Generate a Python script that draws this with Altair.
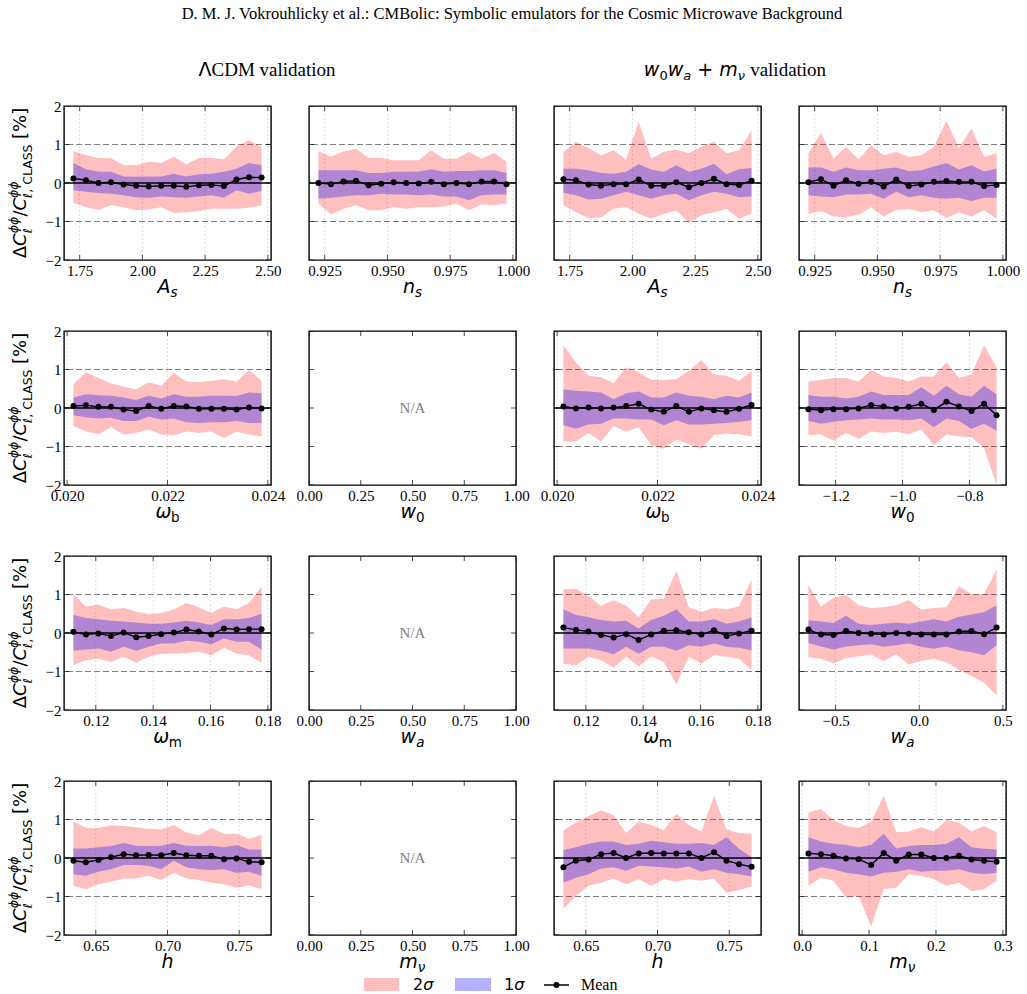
import altair as alt
import pandas as pd

SANS = "DejaVu Sans"
SERIF = "Liberation Serif"
W, H = 207, 154          # plot area of one panel
GAP_X, GAP_Y = 38, 71    # space between panels
TOP = 106                # page offset of the first panel row

# ---------------- bin centres ----------------
As_x = [1.725, 1.775, 1.825, 1.875, 1.925, 1.975, 2.025, 2.075, 2.125, 2.175, 2.225, 2.275, 2.325, 2.375, 2.425, 2.475]
ns_x = [0.9225, 0.9275, 0.9325, 0.9375, 0.9425, 0.9475, 0.9525, 0.9575, 0.9625, 0.9675, 0.9725, 0.9775, 0.9825, 0.9875, 0.9925, 0.9975]
ob_x = [0.020125, 0.020375, 0.020625, 0.020875, 0.021125, 0.021375, 0.021625, 0.021875, 0.022125, 0.022375, 0.022625, 0.022875, 0.023125, 0.023375, 0.023625, 0.023875]
om_x = [0.1122, 0.1166, 0.1209, 0.1253, 0.1297, 0.1341, 0.1384, 0.1428, 0.1472, 0.1516, 0.1559, 0.1603, 0.1647, 0.1691, 0.1734, 0.1778]
h_x = [0.6344, 0.6431, 0.6519, 0.6606, 0.6694, 0.6781, 0.6869, 0.6956, 0.7044, 0.7131, 0.7219, 0.7306, 0.7394, 0.7481, 0.7569, 0.7656]
w0_x = [-1.2813, -1.2438, -1.2063, -1.1688, -1.1313, -1.0938, -1.0563, -1.0188, -0.9813, -0.9438, -0.9063, -0.8688, -0.8313, -0.7938, -0.7563, -0.7188]
wa_x = [-0.6625, -0.5875, -0.5125, -0.4375, -0.3625, -0.2875, -0.2125, -0.1375, -0.0625, 0.0125, 0.0875, 0.1625, 0.2375, 0.3125, 0.3875, 0.4625]
mnu_x = [0.0094, 0.0281, 0.0469, 0.0656, 0.0844, 0.1031, 0.1219, 0.1406, 0.1594, 0.1781, 0.1969, 0.2156, 0.2344, 0.2531, 0.2719, 0.2906]

# ---------------- LCDM validation ----------------
lcdm_As_mean = [0.12, 0.07, 0.00, 0.02, -0.04, -0.07, -0.09, -0.07, -0.07, -0.10, -0.06, -0.05, -0.08, 0.09, 0.15, 0.14]
lcdm_As_lo1 = [-0.19, -0.23, -0.26, -0.28, -0.32, -0.37, -0.38, -0.35, -0.37, -0.38, -0.35, -0.32, -0.38, -0.19, -0.28, -0.21]
lcdm_As_hi1 = [0.52, 0.36, 0.29, 0.29, 0.17, 0.16, 0.17, 0.17, 0.24, 0.17, 0.23, 0.24, 0.29, 0.37, 0.52, 0.46]
lcdm_As_lo2 = [-0.52, -0.63, -0.70, -0.57, -0.63, -0.71, -0.69, -0.63, -0.78, -0.76, -0.73, -0.67, -0.67, -0.67, -0.64, -0.58]
lcdm_As_hi2 = [0.83, 0.72, 0.65, 0.64, 0.46, 0.46, 0.55, 0.52, 0.68, 0.49, 0.65, 0.65, 0.62, 0.94, 1.11, 0.94]

lcdm_ns_mean = [0.00, -0.03, 0.04, 0.06, -0.06, -0.02, 0.02, 0.00, -0.01, 0.03, -0.03, 0.00, -0.03, 0.04, 0.04, -0.03]
lcdm_ns_lo1 = [-0.41, -0.38, -0.35, -0.32, -0.32, -0.28, -0.30, -0.30, -0.32, -0.30, -0.35, -0.35, -0.45, -0.32, -0.30, -0.30]
lcdm_ns_hi1 = [0.33, 0.33, 0.33, 0.33, 0.26, 0.26, 0.29, 0.29, 0.30, 0.36, 0.29, 0.31, 0.31, 0.33, 0.33, 0.26]
lcdm_ns_lo2 = [-0.52, -0.82, -0.67, -0.58, -0.71, -0.71, -0.63, -0.67, -0.63, -0.63, -0.61, -0.54, -0.71, -0.56, -0.58, -0.54]
lcdm_ns_hi2 = [0.83, 0.68, 0.82, 0.89, 0.65, 0.65, 0.59, 0.59, 0.59, 0.85, 0.63, 0.63, 0.81, 0.63, 0.78, 0.55]

lcdm_ob_mean = [0.05, 0.07, 0.03, 0.03, -0.04, -0.08, 0.05, -0.02, 0.05, 0.04, -0.02, -0.02, -0.02, -0.04, 0.01, -0.01]
lcdm_ob_lo1 = [-0.19, -0.24, -0.27, -0.25, -0.34, -0.34, -0.23, -0.30, -0.27, -0.37, -0.39, -0.37, -0.37, -0.34, -0.39, -0.39]
lcdm_ob_hi1 = [0.27, 0.36, 0.33, 0.32, 0.27, 0.21, 0.32, 0.25, 0.36, 0.29, 0.29, 0.32, 0.32, 0.31, 0.40, 0.38]
lcdm_ob_lo2 = [-0.47, -0.61, -0.68, -0.50, -0.69, -0.65, -0.56, -0.69, -0.71, -0.61, -0.65, -0.61, -0.78, -0.61, -0.69, -0.74]
lcdm_ob_hi2 = [0.62, 0.93, 0.78, 0.64, 0.55, 0.49, 0.67, 0.58, 0.91, 0.69, 0.67, 0.71, 0.75, 0.68, 0.99, 0.71]

lcdm_om_mean = [0.03, -0.04, -0.01, -0.08, 0.01, -0.11, -0.08, -0.03, 0.01, 0.09, 0.04, -0.04, 0.12, 0.09, 0.10, 0.10]
lcdm_om_lo1 = [-0.46, -0.43, -0.40, -0.49, -0.36, -0.46, -0.36, -0.27, -0.27, -0.20, -0.23, -0.29, -0.14, -0.23, -0.23, -0.43]
lcdm_om_hi1 = [0.47, 0.39, 0.36, 0.32, 0.30, 0.27, 0.24, 0.24, 0.27, 0.32, 0.27, 0.21, 0.36, 0.36, 0.39, 0.50]
lcdm_om_lo2 = [-0.84, -0.71, -0.67, -0.75, -0.62, -0.77, -0.62, -0.54, -0.54, -0.52, -0.49, -0.58, -0.38, -0.54, -0.58, -0.77]
lcdm_om_hi2 = [1.00, 0.68, 0.74, 0.61, 0.65, 0.56, 0.49, 0.52, 0.61, 0.78, 0.67, 0.52, 0.69, 0.62, 0.78, 1.20]

lcdm_h_mean = [-0.07, -0.11, -0.05, 0.02, 0.10, 0.07, 0.08, 0.07, 0.13, 0.07, 0.06, 0.06, -0.03, -0.01, -0.10, -0.11]
lcdm_h_lo1 = [-0.42, -0.46, -0.36, -0.29, -0.18, -0.18, -0.20, -0.29, -0.07, -0.24, -0.29, -0.31, -0.29, -0.38, -0.36, -0.46]
lcdm_h_hi1 = [0.25, 0.25, 0.28, 0.31, 0.39, 0.32, 0.31, 0.32, 0.39, 0.32, 0.31, 0.32, 0.28, 0.34, 0.22, 0.22]
lcdm_h_lo2 = [-0.72, -0.81, -0.68, -0.62, -0.53, -0.53, -0.46, -0.57, -0.39, -0.53, -0.57, -0.64, -0.68, -0.77, -0.71, -0.81]
lcdm_h_hi2 = [0.95, 0.78, 0.78, 0.85, 0.83, 0.80, 0.76, 0.74, 0.86, 0.66, 0.59, 0.78, 0.63, 0.63, 0.50, 0.60]

# ---------------- w0wa + mnu validation ----------------
ext_As_mean = [0.10, 0.07, -0.04, -0.07, -0.03, -0.03, 0.09, -0.07, -0.07, 0.02, -0.11, 0.00, 0.11, -0.03, -0.05, 0.06]
ext_As_lo1 = [-0.25, -0.32, -0.43, -0.41, -0.32, -0.23, -0.32, -0.41, -0.32, -0.28, -0.45, -0.32, -0.23, -0.28, -0.37, -0.35]
ext_As_hi1 = [0.37, 0.37, 0.33, 0.26, 0.24, 0.29, 0.49, 0.35, 0.29, 0.46, 0.29, 0.37, 0.50, 0.23, 0.36, 0.39]
ext_As_lo2 = [-0.58, -0.76, -0.91, -0.89, -0.67, -0.63, -0.80, -0.93, -0.80, -0.71, -1.04, -0.84, -0.76, -0.67, -0.93, -0.80]
ext_As_hi2 = [0.81, 1.07, 0.90, 0.72, 0.85, 0.61, 1.59, 0.63, 0.81, 0.87, 0.77, 0.94, 1.07, 0.77, 0.85, 1.37]

ext_ns_mean = [0.02, 0.10, -0.07, 0.07, -0.02, 0.03, -0.09, 0.09, -0.08, -0.04, 0.03, 0.05, 0.03, 0.03, -0.08, -0.05]
ext_ns_lo1 = [-0.32, -0.35, -0.37, -0.30, -0.30, -0.28, -0.41, -0.23, -0.37, -0.32, -0.38, -0.41, -0.38, -0.47, -0.38, -0.38]
ext_ns_hi1 = [0.40, 0.40, 0.29, 0.40, 0.33, 0.33, 0.37, 0.40, 0.31, 0.33, 0.43, 0.52, 0.35, 0.46, 0.30, 0.37]
ext_ns_lo2 = [-0.80, -0.73, -0.87, -0.89, -0.82, -0.63, -0.87, -0.70, -0.67, -0.76, -0.71, -0.91, -0.76, -0.87, -0.71, -0.93]
ext_ns_hi2 = [0.77, 1.30, 0.63, 0.94, 0.61, 0.98, 0.72, 0.81, 0.68, 0.72, 0.94, 1.62, 0.90, 1.42, 0.68, 0.77]

ext_ob_mean = [0.04, -0.01, 0.01, -0.01, 0.01, 0.05, 0.11, -0.04, -0.10, 0.05, -0.10, -0.01, -0.06, -0.10, -0.02, 0.08]
ext_ob_lo1 = [-0.45, -0.54, -0.43, -0.41, -0.27, -0.27, -0.30, -0.30, -0.45, -0.32, -0.43, -0.43, -0.41, -0.39, -0.36, -0.32]
ext_ob_hi1 = [0.49, 0.45, 0.43, 0.40, 0.23, 0.38, 0.43, 0.27, 0.27, 0.40, 0.32, 0.29, 0.23, 0.32, 0.27, 0.40]
ext_ob_lo2 = [-0.87, -0.87, -0.65, -0.87, -0.47, -0.62, -0.50, -0.97, -1.06, -0.82, -0.94, -1.06, -0.70, -0.66, -0.68, -0.74]
ext_ob_hi2 = [1.63, 1.19, 0.84, 0.80, 0.64, 1.06, 0.93, 0.73, 0.73, 0.75, 0.97, 1.25, 0.87, 0.84, 0.71, 0.96]

ext_w0_mean = [-0.03, -0.06, -0.03, -0.03, -0.01, 0.08, 0.04, -0.01, 0.03, 0.11, -0.05, 0.16, 0.04, -0.08, 0.11, -0.19]
ext_w0_lo1 = [-0.34, -0.41, -0.36, -0.32, -0.30, -0.27, -0.30, -0.30, -0.32, -0.27, -0.50, -0.27, -0.34, -0.54, -0.41, -0.59]
ext_w0_hi1 = [0.34, 0.29, 0.29, 0.25, 0.29, 0.43, 0.34, 0.34, 0.34, 0.54, 0.32, 0.58, 0.36, 0.29, 0.58, 0.36]
ext_w0_lo2 = [-0.71, -0.68, -0.85, -0.65, -0.80, -0.61, -0.65, -0.62, -0.68, -0.56, -0.97, -0.69, -0.74, -0.76, -1.04, -2.00]
ext_w0_hi2 = [0.69, 0.73, 0.78, 0.78, 0.69, 0.99, 0.82, 0.78, 0.69, 0.82, 0.82, 1.19, 0.78, 0.87, 1.63, 1.06]

ext_om_mean = [0.14, 0.08, 0.04, -0.05, -0.12, -0.03, -0.18, -0.04, 0.06, 0.07, 0.02, -0.04, 0.07, -0.08, -0.01, 0.06]
ext_om_lo1 = [-0.40, -0.40, -0.40, -0.46, -0.55, -0.36, -0.54, -0.36, -0.36, -0.46, -0.32, -0.36, -0.27, -0.36, -0.38, -0.45]
ext_om_hi1 = [0.62, 0.47, 0.41, 0.34, 0.30, 0.32, 0.12, 0.34, 0.45, 0.62, 0.30, 0.30, 0.36, 0.24, 0.30, 0.40]
ext_om_lo2 = [-0.80, -0.84, -0.62, -0.71, -0.90, -0.61, -0.87, -0.61, -0.75, -1.34, -0.62, -0.80, -0.58, -0.62, -0.67, -0.96]
ext_om_hi2 = [1.13, 1.15, 0.96, 0.71, 0.85, 0.71, 0.41, 0.87, 0.89, 1.61, 0.67, 0.55, 0.65, 0.62, 0.69, 1.39]

ext_wa_mean = [0.09, -0.04, -0.05, 0.05, 0.00, -0.02, -0.04, 0.00, -0.02, -0.04, -0.04, -0.04, 0.04, 0.05, -0.03, 0.14]
ext_wa_lo1 = [-0.26, -0.35, -0.43, -0.35, -0.32, -0.29, -0.36, -0.32, -0.27, -0.36, -0.41, -0.35, -0.45, -0.50, -0.58, -0.32]
ext_wa_hi1 = [0.33, 0.30, 0.26, 0.45, 0.24, 0.21, 0.24, 0.27, 0.24, 0.30, 0.36, 0.30, 0.42, 0.48, 0.54, 0.72]
ext_wa_lo2 = [-0.63, -0.67, -0.79, -0.65, -0.61, -0.56, -0.73, -0.56, -0.82, -0.72, -0.67, -0.76, -0.96, -1.12, -1.29, -1.62]
ext_wa_hi2 = [1.25, 0.68, 0.92, 0.98, 0.72, 0.65, 0.67, 0.72, 0.86, 0.61, 0.65, 0.67, 1.21, 1.01, 1.01, 1.65]

ext_h_mean = [-0.24, -0.07, -0.04, 0.10, 0.13, 0.00, 0.12, 0.13, 0.12, 0.12, 0.12, 0.00, 0.15, -0.07, -0.16, -0.23]
ext_h_lo1 = [-0.64, -0.51, -0.42, -0.27, -0.24, -0.33, -0.20, -0.22, -0.24, -0.27, -0.22, -0.36, -0.29, -0.38, -0.42, -0.48]
ext_h_hi1 = [0.21, 0.28, 0.37, 0.43, 0.43, 0.34, 0.37, 0.45, 0.41, 0.37, 0.37, 0.39, 0.34, 0.54, 0.24, 0.02]
ext_h_lo2 = [-1.32, -0.99, -0.72, -0.64, -0.53, -0.68, -0.55, -0.72, -0.55, -0.62, -0.55, -0.59, -0.53, -0.90, -0.83, -0.74]
ext_h_hi2 = [0.72, 0.92, 1.09, 1.24, 1.11, 0.65, 0.95, 0.86, 0.72, 1.15, 0.85, 0.69, 1.62, 0.74, 0.65, 0.63]

ext_mnu_mean = [0.12, 0.10, 0.06, -0.01, -0.03, -0.18, 0.13, -0.07, 0.09, 0.09, 0.00, 0.00, 0.06, -0.04, -0.07, -0.10]
ext_mnu_lo1 = [-0.36, -0.24, -0.29, -0.38, -0.42, -0.48, -0.38, -0.36, -0.29, -0.36, -0.33, -0.33, -0.29, -0.38, -0.42, -0.38]
ext_mnu_hi1 = [0.54, 0.43, 0.37, 0.34, 0.28, 0.34, 0.63, 0.25, 0.31, 0.34, 0.34, 0.37, 0.54, 0.28, 0.24, 0.22]
ext_mnu_lo2 = [-0.72, -0.51, -0.59, -1.03, -0.99, -1.77, -0.81, -0.77, -0.42, -0.46, -0.55, -0.72, -0.64, -0.86, -0.81, -0.59]
ext_mnu_hi2 = [1.18, 1.27, 0.98, 0.83, 0.78, 0.94, 1.62, 0.67, 0.69, 0.80, 0.69, 0.98, 0.92, 0.69, 0.83, 0.67]

Y_TICKS = [-2, -1, 0, 1, 2]

# ---------------- text helpers ----------------
SANS_EM = {"A": .684, "C": .698, "D": .770, "L": .557, "M": .863, "S": .635,
           "a": .613, "b": .635, "h": .634, "m": .974, "n": .634, "s": .521, "w": .818,
           " ": .318, ",": .318, "/": .337, "[": .390, "]": .390, "%": .950, "+": .838,
           "Δ": .684, "Λ": .684, "σ": .634, "ν": .592, "ω": .812, "ϕ": .670, "ℓ": .420}
SERIF_EM = {" ": .25, "C": .667, "D": .722, "M": .889, "a": .444, "d": .5, "e": .444,
            "i": .278, "l": .278, "n": .5, "o": .5, "t": .278, "v": .5}

ONE = pd.DataFrame({"k": [0]})


def text_w(t, size, font):
    table = SANS_EM if font == SANS else SERIF_EM
    return sum(table.get(c, 0.636) for c in t) * size


def txt(t, size, font, italic, x, y, dx=0.0, dy=0.0, angle=0, color="black", align="left"):
    kw = dict(text=t, font=font, fontSize=size, fontStyle="italic" if italic else "normal",
              align=align, baseline="middle", dx=dx, dy=dy, color=color)
    if angle:
        kw["angle"] = angle
    return alt.Chart(ONE).mark_text(**kw).encode(x=alt.value(x), y=alt.value(y))


def run(groups, x, y, angle=0, centre=True):
    """Chain text pieces; pieces inside one group share a start (super/subscript stacks)."""
    widths = [max(text_w(p[0], p[1], p[2]) for p in g) for g in groups]
    pos = -sum(widths) / 2 if centre else 0.0
    out = []
    for g, w in zip(groups, widths):
        for (t, size, font, italic, shift) in g:
            body = t.strip()
            lead = text_w(t[: len(t) - len(t.lstrip())], size, font)
            out.append(txt(body, size, font, italic, x, y, dx=pos + lead, dy=shift, angle=angle))
        pos += w
    return out


def xlabel(main, sub=None, sub_italic=True):
    g = [[(main, 19, SANS, True, 0)]]
    if sub:
        g.append([(sub, 13.5, SANS, sub_italic, 6)])
    return g


YLABEL = [
    [("Δ", 18, SANS, False, 0)],
    [("C", 18, SANS, True, 0)],
    [("ϕϕ", 12.5, SANS, True, -7), ("ℓ", 12.5, SANS, False, 7)],
    [("/", 18, SANS, False, 0)],
    [("C", 18, SANS, True, 0)],
    [("ϕϕ", 12.5, SANS, True, -7), ("ℓ, CLASS", 12.5, SANS, False, 7)],
    [(" [%]", 18, SANS, False, 0)],
]


# ---------------- one panel ----------------
def panel(domain, ticks, fmt, xlab, first, series=None, extra=()):
    xsc = alt.Scale(domain=domain, nice=False, zero=False)
    ysc = alt.Scale(domain=[-2, 2], nice=False, zero=False)
    xax = alt.Axis(values=ticks, format=fmt, labelFont=SERIF, labelFontSize=15, labelColor="black",
                   labelPadding=3, labelFlush=False, labelOverlap=False, ticks=False, tickSize=0,
                   domain=False, grid=False, title=None)
    if first:
        yax = alt.Axis(values=Y_TICKS, format="d", labelFont=SERIF, labelFontSize=15, labelColor="black",
                       labelPadding=3, labelFlush=False, labelOverlap=False, ticks=False, tickSize=0,
                       domain=False, grid=False, title=None)
    else:
        yax = None

    def X(f):
        return alt.X(f, type="quantitative", scale=xsc, axis=xax)

    def Y(f):
        return alt.Y(f, type="quantitative", scale=ysc, axis=yax)

    xt = pd.DataFrame({"x": ticks})
    yt = pd.DataFrame({"y": Y_TICKS})
    layers = []
    if series is not None:
        xs, mean, lo1, hi1, lo2, hi2 = series
        df = pd.DataFrame({"x": xs, "mean": mean, "lo1": lo1, "hi1": hi1, "lo2": lo2, "hi2": hi2})
        layers += [
            alt.Chart(xt).mark_rule(color="#d6d6d6", strokeDash=[2, 2], strokeWidth=0.8).encode(x=X("x")),
            alt.Chart(pd.DataFrame({"y": [-1, 1]})).mark_rule(color="#808080", strokeDash=[6, 3], strokeWidth=1.2).encode(y=Y("y")),
            alt.Chart(df).mark_area(color="red", opacity=0.25, clip=True).encode(x=X("x"), y=Y("lo2"), y2="hi2"),
            alt.Chart(df).mark_area(color="blue", opacity=0.3, clip=True).encode(x=X("x"), y=Y("lo1"), y2="hi1"),
            alt.Chart(pd.DataFrame({"y": [0]})).mark_rule(color="black", strokeWidth=1.6).encode(y=Y("y")),
            alt.Chart(df).mark_line(color="black", strokeWidth=1.4).encode(x=X("x"), y=Y("mean")),
            alt.Chart(df).mark_point(filled=True, color="black", size=36, opacity=1).encode(x=X("x"), y=Y("mean")),
        ]
    else:
        layers.append(txt("N/A", 15, SERIF, False, W / 2, H / 2, color="#808080", align="center"))
    # inward ticks on all four sides
    layers += [
        alt.Chart(xt).mark_tick(orient="vertical", size=10, thickness=1, color="black", clip=True).encode(x=X("x"), y=alt.value(0)),
        alt.Chart(xt).mark_tick(orient="vertical", size=10, thickness=1, color="black", clip=True).encode(x=X("x"), y=alt.value(H)),
        alt.Chart(yt).mark_tick(orient="horizontal", size=10, thickness=1, color="black", clip=True).encode(y=Y("y"), x=alt.value(0)),
        alt.Chart(yt).mark_tick(orient="horizontal", size=10, thickness=1, color="black", clip=True).encode(y=Y("y"), x=alt.value(W)),
    ]
    layers += run(xlab, W / 2, H + 27)
    if first:
        layers += run(YLABEL, -43, H / 2, angle=270)
    layers += list(extra)
    return alt.layer(*layers).properties(width=W, height=H)


def dom(xs):
    span = xs[-1] - xs[0]
    return [xs[0] - 0.05 * span, xs[-1] + 0.05 * span]


# ---------------- figure title, column headers (drawn from the top-left panel) ----------------
head = [
    txt("D. M. J. Vokrouhlicky et al.: CMBolic: Symbolic emulators for the Cosmic Microwave Background",
        16.5, SERIF, False, 448, 14 - TOP, align="center"),
]
head += run([[("Λ", 19, SANS, False, 0)], [("CDM validation", 19, SERIF, False, 0)]], 203, 70 - TOP)
head += run([
    [("w", 19, SANS, True, 0)], [("0", 13, SANS, False, 6)],
    [("w", 19, SANS, True, 0)], [("a", 13, SANS, True, 6)],
    [(" + ", 19, SANS, False, 0)],
    [("m", 19, SANS, True, 0)], [("ν", 13, SANS, True, 6)],
    [(" validation", 19, SERIF, False, 0)],
], 671, 70 - TOP)

# ---------------- legend (drawn from the bottom-left panel) ----------------
LY = H + 50
leg = [
    alt.Chart(ONE).mark_rect(color="red", opacity=0.25).encode(
        x=alt.value(300), x2=alt.value(335), y=alt.value(LY - 7), y2=alt.value(LY + 6)),
    alt.Chart(ONE).mark_rect(color="blue", opacity=0.3).encode(
        x=alt.value(391), x2=alt.value(427), y=alt.value(LY - 7), y2=alt.value(LY + 6)),
    alt.Chart(ONE).mark_rule(color="black", strokeWidth=1.5).encode(
        x=alt.value(480), x2=alt.value(505), y=alt.value(LY)),
    alt.Chart(ONE).mark_point(filled=True, color="black", size=36, opacity=1).encode(
        x=alt.value(492.5), y=alt.value(LY)),
    txt("Mean", 16, SERIF, False, 517, LY),
]
leg += run([[("2", 16, SANS, False, 0)], [("σ", 16, SANS, True, 0)]], 349, LY, centre=False)
leg += run([[("1", 16, SANS, False, 0)], [("σ", 16, SANS, True, 0)]], 440, LY, centre=False)

AS_T, NS_T = [1.75, 2.0, 2.25, 2.5], [0.925, 0.95, 0.975, 1.0]
OB_T, OM_T, H_T = [0.020, 0.022, 0.024], [0.12, 0.14, 0.16, 0.18], [0.65, 0.70, 0.75]
W0_T, WA_T, MNU_T = [-1.2, -1.0, -0.8], [-0.5, 0.0, 0.5], [0.0, 0.1, 0.2, 0.3]
NA_T = [0.0, 0.25, 0.5, 0.75, 1.0]

panels = [
    # row 1
    panel(dom(As_x), AS_T, ".2f", xlabel("A", "s"), True,
          (As_x, lcdm_As_mean, lcdm_As_lo1, lcdm_As_hi1, lcdm_As_lo2, lcdm_As_hi2), extra=head),
    panel(dom(ns_x), NS_T, ".3f", xlabel("n", "s"), False,
          (ns_x, lcdm_ns_mean, lcdm_ns_lo1, lcdm_ns_hi1, lcdm_ns_lo2, lcdm_ns_hi2)),
    panel(dom(As_x), AS_T, ".2f", xlabel("A", "s"), False,
          (As_x, ext_As_mean, ext_As_lo1, ext_As_hi1, ext_As_lo2, ext_As_hi2)),
    panel(dom(ns_x), NS_T, ".3f", xlabel("n", "s"), False,
          (ns_x, ext_ns_mean, ext_ns_lo1, ext_ns_hi1, ext_ns_lo2, ext_ns_hi2)),
    # row 2
    panel(dom(ob_x), OB_T, ".3f", xlabel("ω", "b", False), True,
          (ob_x, lcdm_ob_mean, lcdm_ob_lo1, lcdm_ob_hi1, lcdm_ob_lo2, lcdm_ob_hi2)),
    panel([0, 1], NA_T, ".2f", xlabel("w", "0", False), False),
    panel(dom(ob_x), OB_T, ".3f", xlabel("ω", "b", False), False,
          (ob_x, ext_ob_mean, ext_ob_lo1, ext_ob_hi1, ext_ob_lo2, ext_ob_hi2)),
    panel(dom(w0_x), W0_T, ".1f", xlabel("w", "0", False), False,
          (w0_x, ext_w0_mean, ext_w0_lo1, ext_w0_hi1, ext_w0_lo2, ext_w0_hi2)),
    # row 3
    panel(dom(om_x), OM_T, ".2f", xlabel("ω", "m", False), True,
          (om_x, lcdm_om_mean, lcdm_om_lo1, lcdm_om_hi1, lcdm_om_lo2, lcdm_om_hi2)),
    panel([0, 1], NA_T, ".2f", xlabel("w", "a"), False),
    panel(dom(om_x), OM_T, ".2f", xlabel("ω", "m", False), False,
          (om_x, ext_om_mean, ext_om_lo1, ext_om_hi1, ext_om_lo2, ext_om_hi2)),
    panel(dom(wa_x), WA_T, ".1f", xlabel("w", "a"), False,
          (wa_x, ext_wa_mean, ext_wa_lo1, ext_wa_hi1, ext_wa_lo2, ext_wa_hi2)),
    # row 4
    panel(dom(h_x), H_T, ".2f", xlabel("h"), True,
          (h_x, lcdm_h_mean, lcdm_h_lo1, lcdm_h_hi1, lcdm_h_lo2, lcdm_h_hi2), extra=leg),
    panel([0, 1], NA_T, ".2f", xlabel("m", "ν"), False),
    panel(dom(h_x), H_T, ".2f", xlabel("h"), False,
          (h_x, ext_h_mean, ext_h_lo1, ext_h_hi1, ext_h_lo2, ext_h_hi2)),
    panel(dom(mnu_x), MNU_T, ".1f", xlabel("m", "ν"), False,
          (mnu_x, ext_mnu_mean, ext_mnu_lo1, ext_mnu_hi1, ext_mnu_lo2, ext_mnu_hi2)),
]

chart = alt.concat(
    *panels, columns=4, spacing={"row": GAP_Y, "column": GAP_X}, bounds="flush",
).properties(
    padding={"left": 7, "top": 5, "right": 4, "bottom": 0},
    background="white",
).configure_view(stroke="black", strokeWidth=1.4)

chart.save("out.html", embed_options={"renderer": "svg", "actions": False})
